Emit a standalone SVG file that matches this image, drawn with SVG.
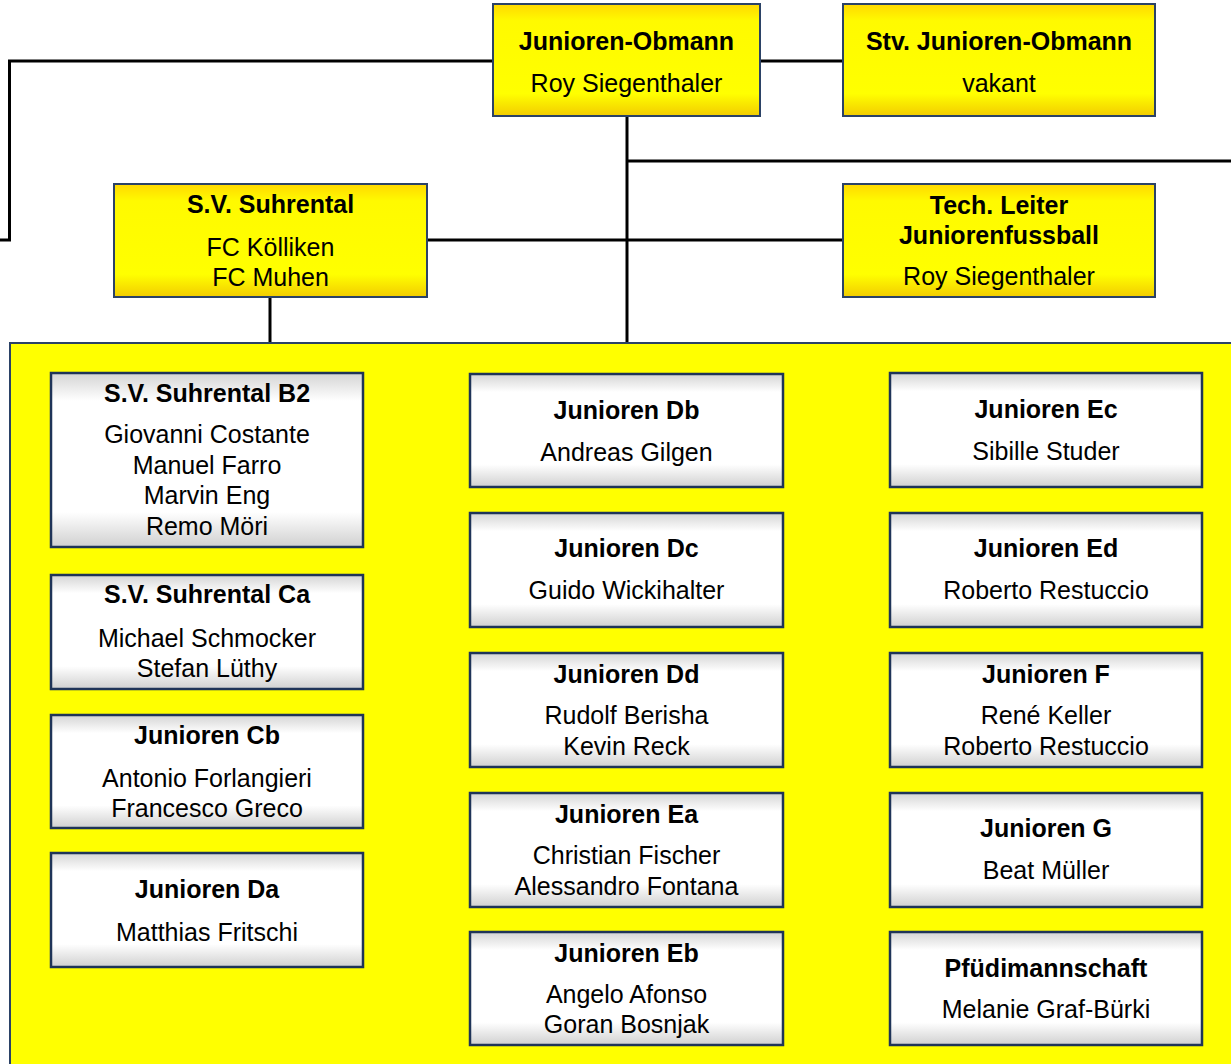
<svg xmlns="http://www.w3.org/2000/svg" width="1231" height="1064" viewBox="0 0 1231 1064">
<defs>
<linearGradient id="gy" x1="0" y1="0" x2="0" y2="1">
<stop offset="0" stop-color="#FFD800"/>
<stop offset="0.15" stop-color="#FFFA00"/>
<stop offset="0.8" stop-color="#FFFF00"/>
<stop offset="1" stop-color="#F2CC00"/>
</linearGradient>
<linearGradient id="gw" x1="0" y1="0" x2="0" y2="1">
<stop offset="0" stop-color="#D4D4D4"/>
<stop offset="0.16" stop-color="#FFFFFF"/>
<stop offset="0.8" stop-color="#FFFFFF"/>
<stop offset="1" stop-color="#D0D0D0"/>
</linearGradient>
<style>
.y{fill:url(#gy);stroke:#2B4266;stroke-width:2}
.w{fill:url(#gw);stroke:#1F3458;stroke-width:2.5}
.c{fill:#FFFF00;stroke:#2B4266;stroke-width:2}
text{font-family:"Liberation Sans",Arial,sans-serif;font-size:25px;fill:#000;text-anchor:middle}
.b{font-weight:bold}
.ln{fill:none;stroke:#000;stroke-width:3}
</style>
</defs>
<rect width="1231" height="1064" fill="#FFFFFF"/>
<g id="connectors">
<path class="ln" d="M0,240 H9.5 V61 H493"/>
<path class="ln" d="M760,61 H843"/>
<path class="ln" d="M627,116 V343"/>
<path class="ln" d="M627,161 H1231"/>
<path class="ln" d="M427,240 H843"/>
<path class="ln" d="M270,297 V343"/>
</g>
<g id="container"><rect class="c" x="10" y="343" width="1230" height="730"/></g>
<g id="obmann"><rect class="y" x="493" y="4" width="267" height="112"/>
<text class="b" x="626.5" y="50">Junioren-Obmann</text><text x="626.5" y="92">Roy Siegenthaler</text></g>
<g id="stv"><rect class="y" x="843" y="4" width="312" height="112"/>
<text class="b" x="999" y="50">Stv. Junioren-Obmann</text><text x="999" y="92">vakant</text></g>
<g id="suhrental"><rect class="y" x="114" y="184" width="313" height="113"/>
<text class="b" x="270.5" y="213">S.V. Suhrental</text><text x="270.5" y="256">FC Kölliken</text><text x="270.5" y="286">FC Muhen</text></g>
<g id="techleiter"><rect class="y" x="843" y="184" width="312" height="113"/>
<text class="b" x="999" y="214">Tech. Leiter</text><text class="b" x="999" y="244">Juniorenfussball</text><text x="999" y="285">Roy Siegenthaler</text></g>

<g id="b2"><rect class="w" x="51" y="373" width="312" height="174"/>
<text class="b" x="207" y="402">S.V. Suhrental B2</text><text x="207" y="443">Giovanni Costante</text><text x="207" y="473.5">Manuel Farro</text><text x="207" y="504">Marvin Eng</text><text x="207" y="534.5">Remo Möri</text></g>
<g id="ca"><rect class="w" x="51" y="575" width="312" height="114"/>
<text class="b" x="207" y="603">S.V. Suhrental Ca</text><text x="207" y="647">Michael Schmocker</text><text x="207" y="677">Stefan Lüthy</text></g>
<g id="cb"><rect class="w" x="51" y="715" width="312" height="113"/>
<text class="b" x="207" y="744">Junioren Cb</text><text x="207" y="787">Antonio Forlangieri</text><text x="207" y="817">Francesco Greco</text></g>
<g id="da"><rect class="w" x="51" y="853" width="312" height="114"/>
<text class="b" x="207" y="898">Junioren Da</text><text x="207" y="941">Matthias Fritschi</text></g>

<g id="db"><rect class="w" x="470" y="374" width="313" height="113"/>
<text class="b" x="626.5" y="419">Junioren Db</text><text x="626.5" y="461">Andreas Gilgen</text></g>
<g id="dc"><rect class="w" x="470" y="513" width="313" height="114"/>
<text class="b" x="626.5" y="557">Junioren Dc</text><text x="626.5" y="599">Guido Wickihalter</text></g>
<g id="dd"><rect class="w" x="470" y="653" width="313" height="114"/>
<text class="b" x="626.5" y="683">Junioren Dd</text><text x="626.5" y="724">Rudolf Berisha</text><text x="626.5" y="755">Kevin Reck</text></g>
<g id="ea"><rect class="w" x="470" y="793" width="313" height="114"/>
<text class="b" x="626.5" y="823">Junioren Ea</text><text x="626.5" y="864">Christian Fischer</text><text x="626.5" y="895">Alessandro Fontana</text></g>
<g id="eb"><rect class="w" x="470" y="932" width="313" height="113"/>
<text class="b" x="626.5" y="962">Junioren Eb</text><text x="626.5" y="1003">Angelo Afonso</text><text x="626.5" y="1033">Goran Bosnjak</text></g>

<g id="ec"><rect class="w" x="890" y="373" width="312" height="114"/>
<text class="b" x="1046" y="418">Junioren Ec</text><text x="1046" y="460">Sibille Studer</text></g>
<g id="ed"><rect class="w" x="890" y="513" width="312" height="114"/>
<text class="b" x="1046" y="557">Junioren Ed</text><text x="1046" y="599">Roberto Restuccio</text></g>
<g id="f"><rect class="w" x="890" y="653" width="312" height="114"/>
<text class="b" x="1046" y="683">Junioren F</text><text x="1046" y="724">René Keller</text><text x="1046" y="755">Roberto Restuccio</text></g>
<g id="g"><rect class="w" x="890" y="793" width="312" height="114"/>
<text class="b" x="1046" y="837">Junioren G</text><text x="1046" y="879">Beat Müller</text></g>
<g id="pf"><rect class="w" x="890" y="932" width="312" height="113"/>
<text class="b" x="1046" y="977">Pfüdimannschaft</text><text x="1046" y="1018">Melanie Graf-Bürki</text></g>
</svg>
